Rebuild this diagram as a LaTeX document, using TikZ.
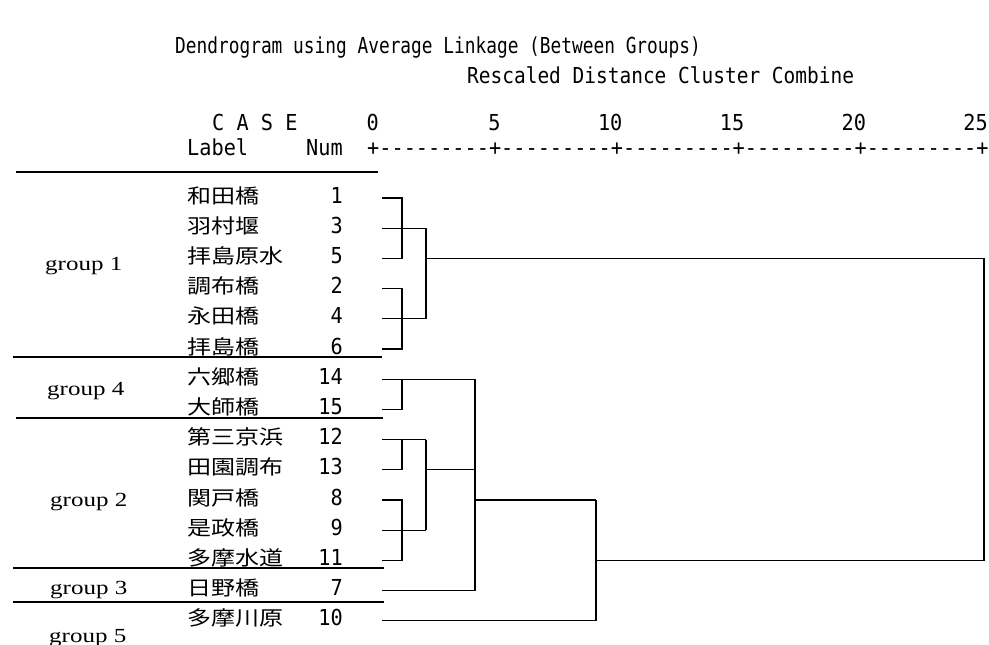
\documentclass[tikz,border=0pt]{standalone}
\usepackage{fontspec}
\newfontfamily\monof[FakeStretch=0.92]{DejaVu Sans Mono}
\newfontfamily\titlef[FakeStretch=0.81]{DejaVu Sans Mono}
\newfontfamily\subf[FakeStretch=0.885]{DejaVu Sans Mono}
\newfontfamily\cjkf[FakeStretch=1.2]{Noto Sans CJK JP}
\newfontfamily\grpf[FakeStretch=1.25]{Liberation Serif}
\tikzset{
  mono/.style={font=\monof\fontsize{22}{22}\selectfont, inner sep=0pt, anchor=base west},
  monor/.style={mono, anchor=base east},
  titletext/.style={mono, font=\titlef\fontsize{22}{22}\selectfont},
  subtext/.style={mono, font=\subf\fontsize{22}{22}\selectfont},
  cjk/.style={font=\cjkf\fontsize{20}{20}\selectfont, inner sep=0pt, anchor=base west},
  grp/.style={font=\grpf\fontsize{20}{20}\selectfont, inner sep=0pt, anchor=base west},
  rule/.style={line width=1.3pt, black},
  dend/.style={line width=1.3pt, black, line join=miter},
}
\begin{document}
\begin{tikzpicture}[x=1pt, y=-1pt]
\useasboundingbox (0,0) rectangle (989,645);
% titles
\node[titletext] (title) at (175,53) {Dendrogram using Average Linkage (Between Groups)};
\node[subtext] (sub) at (467,83) {Rescaled Distance Cluster Combine};
\node[mono] (case) at (212,130) {C A S E};
\node[mono] (lab) at (187,155) {Label};
\node[monor] (num) at (343,155) {Num};
% axis
\node[mono] (axis) at (367,155) {+---------+---------+---------+---------+---------+};
\foreach \v/\t in {0/0,5/10,10/20,15/30,20/40,25/50}
  \node[monor] (ax\v) at ({373+\t*12.18+6},130) {\v};
% rules
\draw[rule] (16,172) -- (378,172);
\draw[rule] (13,357) -- (382,357);
\draw[rule] (16,418) -- (383,418);
\draw[rule] (13,568) -- (384,568);
\draw[rule] (13,602) -- (384,602);
% group labels
\node[grp] (g1) at (45,270) {group 1};
\node[grp] (g4) at (47,395) {group 4};
\node[grp] (g2) at (50,506) {group 2};
\node[grp] (g3) at (50,594) {group 3};
\node[grp] (g5) at (49,642) {group 5};
% rows
\foreach \k/\name/\n in {0/和田橋/1,1/羽村堰/3,2/拝島原水/5,3/調布橋/2,4/永田橋/4,5/拝島橋/6,
  6/六郷橋/14,7/大師橋/15,8/第三京浜/12,9/田園調布/13,10/関戸橋/8,11/是政橋/9,
  12/多摩水道/11,13/日野橋/7,14/多摩川原/10}{
  \pgfmathsetmacro\yy{198+30.2*\k}
  \node[cjk] (name\k) at (187,\yy+5) {\name};
  \node[monor] (n\k) at (343,\yy+5) {\n};
  \coordinate (leaf\k) at (382,\yy);
}
% join x positions
\coordinate (xA) at (402,0);
\coordinate (xB) at (426,0);
\coordinate (xC) at (475,0);
\coordinate (xD) at (596,0);
\coordinate (xE) at (984,0);
% group 1
\draw[dend] (leaf0) -- (leaf0 -| xA) -- (leaf2 -| xA) -- (leaf2);
\draw[dend] (leaf1) -- (leaf1 -| xB);
\draw[dend] (leaf3) -- (leaf3 -| xA) -- (leaf5 -| xA) -- (leaf5);
\draw[dend] (leaf4) -- (leaf4 -| xB);
\draw[dend] (leaf1 -| xB) -- (leaf4 -| xB);
\draw[dend] (leaf2 -| xB) -- (leaf2 -| xE) -- (leaf12 -| xE) -- (leaf12 -| xD);
% group 4
\draw[dend] (leaf6) -- (leaf6 -| xA) -- (leaf7 -| xA) -- (leaf7);
\draw[dend] (leaf6 -| xA) -- (leaf6 -| xC);
% group 2
\draw[dend] (leaf8) -- (leaf8 -| xA) -- (leaf9 -| xA) -- (leaf9);
\draw[dend] (leaf8 -| xA) -- (leaf8 -| xB);
\draw[dend] (leaf10) -- (leaf10 -| xA) -- (leaf12 -| xA) -- (leaf12);
\draw[dend] (leaf11) -- (leaf11 -| xB);
\draw[dend] (leaf8 -| xB) -- (leaf11 -| xB);
\draw[dend] (leaf9 -| xB) -- (leaf9 -| xC);
% group 3 and merge
\draw[dend] (leaf13) -- (leaf13 -| xC);
\draw[dend] (leaf6 -| xC) -- (leaf13 -| xC);
\draw[dend] (leaf10 -| xC) -- (leaf10 -| xD);
% group 5
\draw[dend] (leaf14) -- (leaf14 -| xD) -- (leaf10 -| xD);
\end{tikzpicture}
\end{document}
